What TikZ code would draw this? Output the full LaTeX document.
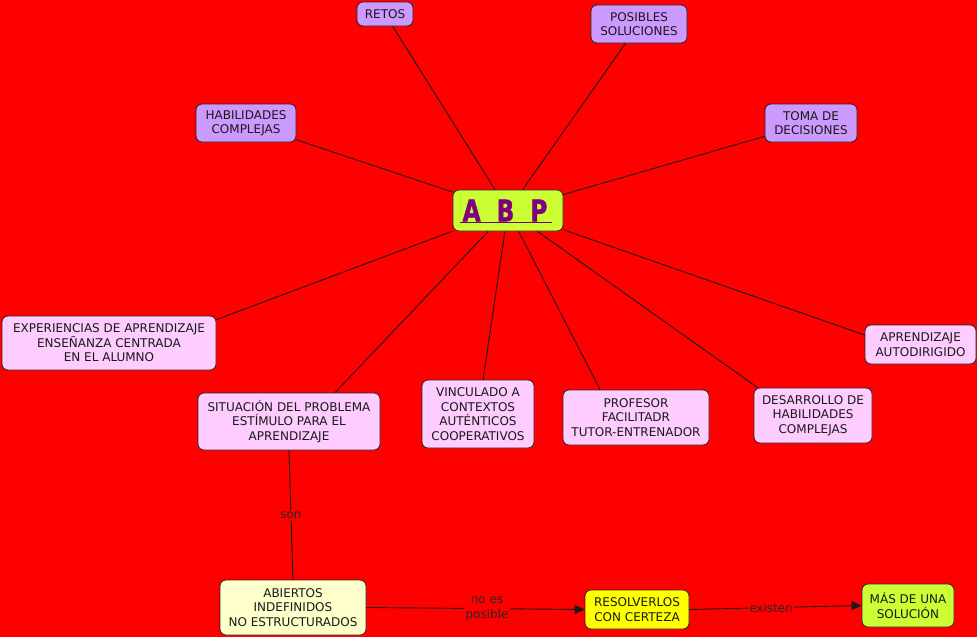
\documentclass[tikz,border=0pt]{standalone}
\usepackage{graphicx}
\usepackage{fontspec}
\setmainfont{DejaVu Sans}
\newfontfamily\abpfont[FakeBold=1.5]{DejaVu Sans Condensed Bold}
\usetikzlibrary{calc,arrows.meta}
\definecolor{bg}{HTML}{FF0000}
\definecolor{lav}{HTML}{CC99FF}
\definecolor{pinkb}{HTML}{FFCCFF}
\definecolor{lyel}{HTML}{FFFFCC}
\definecolor{yelb}{HTML}{FFFF00}
\definecolor{lime}{HTML}{CCFF33}
\definecolor{abpc}{HTML}{800080}
\begin{document}
\begin{tikzpicture}[x=1pt,y=-1pt,
  box/.style={draw=black!85, line width=0.8pt, rounded corners=6pt, inner sep=0pt,
    align=center, font=\fontsize{12}{14.5}\selectfont, text=black!90},
  link/.style={draw=black!90, line width=0.9pt},
  lbl/.style={fill=bg, inner sep=1.5pt, align=center, font=\fontsize{12}{15}\selectfont, text=black!85}]
\fill[bg] (0,0) rectangle (977,637);
\useasboundingbox (0,0) rectangle (977,637);

\node[box, fill=lime, minimum width=110pt, minimum height=41pt] (abp) at (508,210.5) {};
\node[text=abpc, font=\fontsize{29.7}{30}\abpfont, anchor=base, inner sep=0pt] (abpt) at (505,221.3)
  {\scalebox{0.87}[1]{A}\hspace{16pt}\scalebox{0.87}[1]{B}\hspace{16pt}\scalebox{0.87}[1]{P}};
\draw[abpc!85!black, line width=1.3pt] ($(abpt.base west)+(-2,1.5)$) -- ($(abpt.base east)+(4,1.5)$);

\node[box, fill=lav, minimum width=56pt, minimum height=24pt] (retos) at (385,14) {RETOS};
\node[box, fill=lav, minimum width=96pt, minimum height=38pt] (posib) at (639,24) {POSIBLES\\SOLUCIONES};
\node[box, fill=lav, minimum width=100pt, minimum height=38pt] (habil) at (246,123) {HABILIDADES\\COMPLEJAS};
\node[box, fill=lav, minimum width=92pt, minimum height=38pt] (toma) at (811,123) {TOMA DE\\DECISIONES};

\node[box, fill=pinkb, minimum width=214pt, minimum height=54pt] (exper) at (109,343) {EXPERIENCIAS DE APRENDIZAJE\\ENSEÑANZA CENTRADA\\EN EL ALUMNO};
\node[box, fill=pinkb, minimum width=111pt, minimum height=39pt] (auto) at (920.5,344.5) {APRENDIZAJE\\AUTODIRIGIDO};
\node[box, fill=pinkb, minimum width=182pt, minimum height=57pt] (situ) at (289,421.5) {SITUACIÓN DEL PROBLEMA\\ESTÍMULO PARA EL\\APRENDIZAJE};
\node[box, fill=pinkb, minimum width=112pt, minimum height=68pt] (vinc) at (478,414) {VINCULADO A\\CONTEXTOS\\AUTÉNTICOS\\COOPERATIVOS};
\node[box, fill=pinkb, minimum width=146pt, minimum height=55pt] (prof) at (636,417.5) {PROFESOR\\FACILITADR\\TUTOR-ENTRENADOR};
\node[box, fill=pinkb, minimum width=118pt, minimum height=55pt] (desa) at (813,415.5) {DESARROLLO DE\\HABILIDADES\\COMPLEJAS};

\node[box, fill=lyel, minimum width=146pt, minimum height=55pt] (abier) at (293,607.5) {ABIERTOS\\INDEFINIDOS\\NO ESTRUCTURADOS};
\node[box, fill=yelb, minimum width=104pt, minimum height=39pt] (resol) at (637,609.5) {RESOLVERLOS\\CON CERTEZA};
\node[box, fill=lime, minimum width=92pt, minimum height=43pt] (mas) at (908,605.5) {MÁS DE UNA\\SOLUCIÓN};

\draw[link] (abp) -- (retos);
\draw[link] (abp) -- (posib);
\draw[link] (abp) -- (habil);
\draw[link] (abp) -- (toma);
\draw[link] (abp) -- ($(exper.north east)+(0,4)$);
\draw[link] (abp) -- ($(auto.west)+(0,-9.5)$);
\draw[link] (abp) -- ($(situ.north)+(46,0)$);
\draw[link] (abp) -- (vinc);
\draw[link] (abp) -- ($(prof.north)+(-36,0)$);
\draw[link] (abp) -- ($(desa.north west)+(4,0)$);

\draw[link] (situ.south) -- node[lbl]{son} (abier.north);
\draw[link, -{Triangle[length=10pt,width=9pt]}] (abier.east) -- node[lbl, pos=0.553]{no es\\posible} (resol.west);
\draw[link, -{Triangle[length=10pt,width=9pt]}] (resol.east) -- node[lbl, pos=0.474]{existen} (mas.west);
\end{tikzpicture}
\end{document}
